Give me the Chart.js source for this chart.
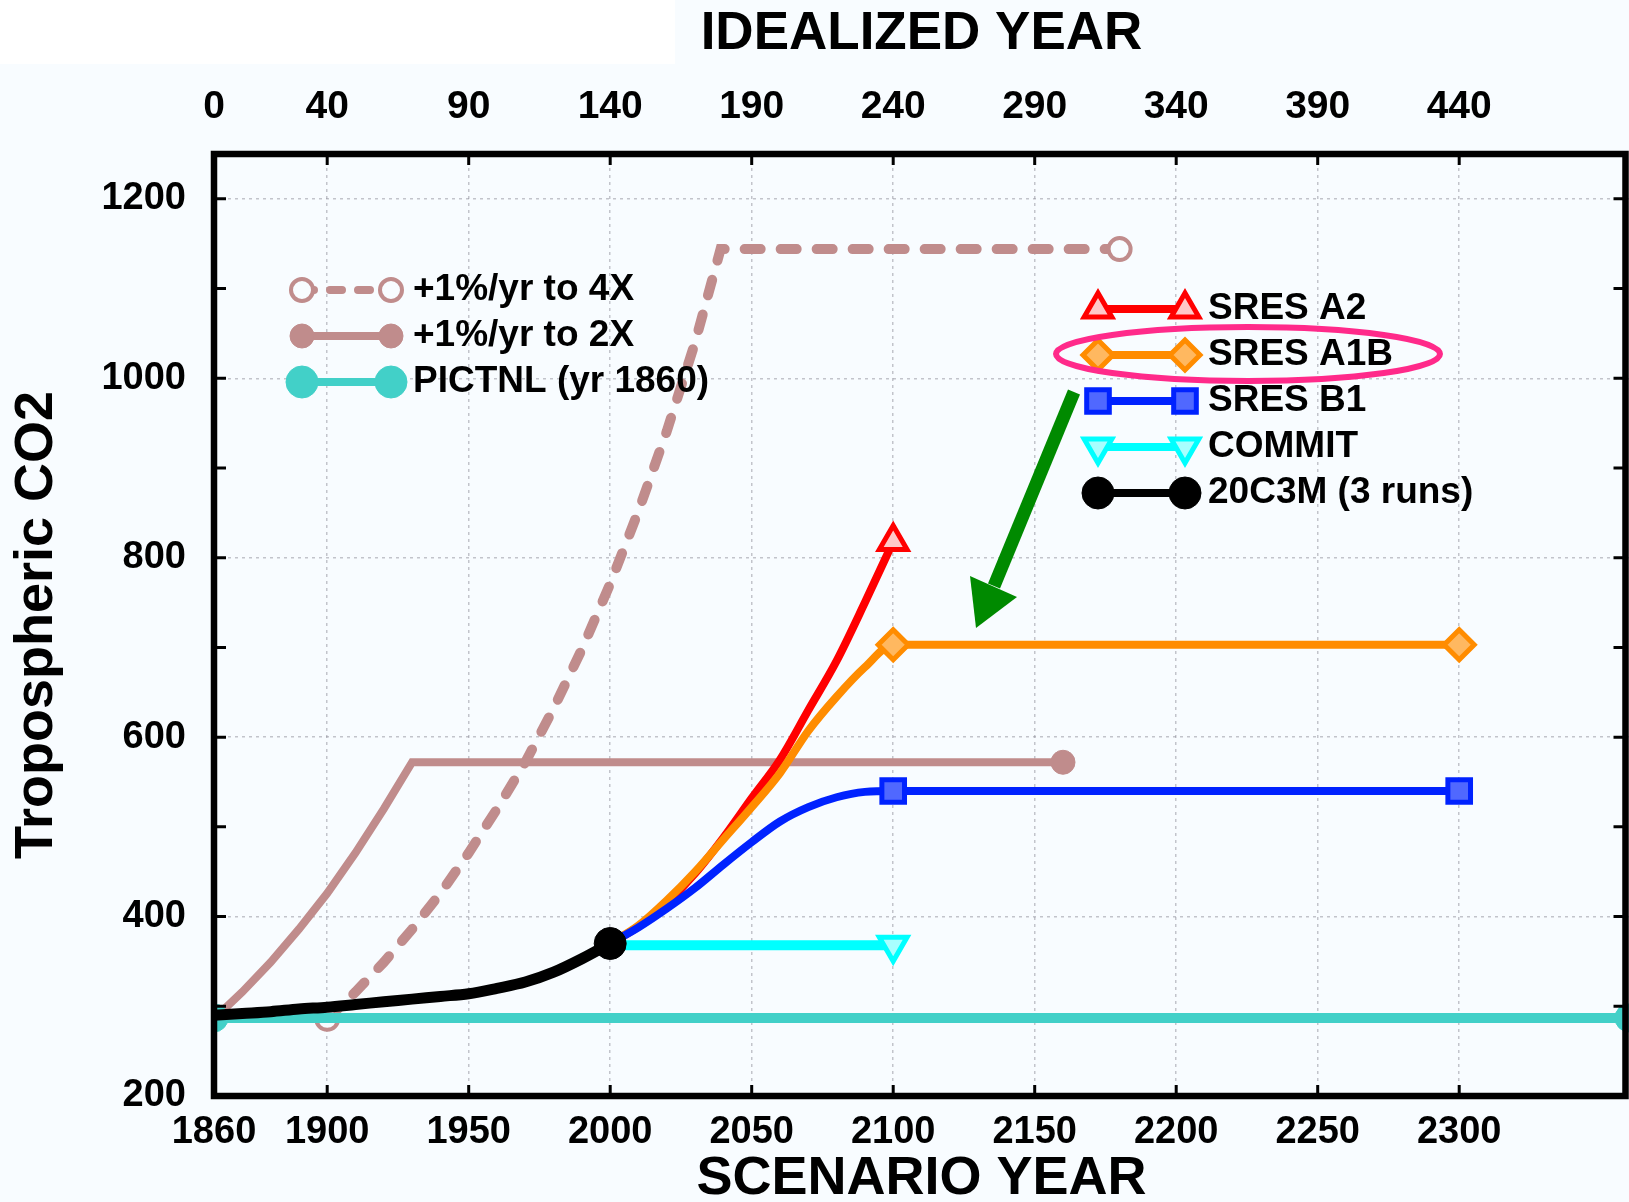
<!DOCTYPE html>
<html>
<head>
<meta charset="utf-8">
<title>Tropospheric CO2</title>
<script src="https://cdn.jsdelivr.net/npm/chart.js@4.4.0/dist/chart.umd.min.js"></script>
<style>
  html, body { margin: 0; padding: 0; background: #f8fcff; }
  #wrap { width: 1629px; height: 1202px; }
</style>
</head>
<body>
<div id="wrap"><canvas id="co2Chart" width="1629" height="1202"></canvas></div>
<script>
// tick positions (scenario years) and CO2 ticks
const scenarioTicks = [1860, 1900, 1950, 2000, 2050, 2100, 2150, 2200, 2250, 2300];
const idealizedStart = 1860; // idealized year 0
const co2Ticks = [200, 300, 400, 500, 600, 700, 800, 900, 1000, 1100, 1200];

// control runs
const pictnlYears = [1860, 2360];
const pictnlCO2 = [287, 287];

const twoXYears = [1860, 1870, 1880, 1890, 1900, 1910, 1920, 1930, 2160];
const twoXCO2 = [286, 316, 349, 386, 426, 471, 520, 572, 572];

const fourXYears = [1900, 1910, 1920, 1930, 1940, 1950, 1960, 1970, 1980, 1990, 2000, 2010, 2020, 2030, 2039, 2180];
const fourXCO2 = [286, 316, 349, 386, 426, 471, 520, 572, 632, 698, 771, 852, 941, 1040, 1144, 1144];

// 20th century
const histYears = [1860, 1870, 1880, 1890, 1900, 1910, 1920, 1930, 1940, 1950, 1960, 1970, 1980, 1990, 2000];
const histCO2 = [290, 292, 294, 297, 299, 302, 305, 308, 311, 314, 320, 327, 338, 353, 370];

// scenarios
const sresYears = [2000, 2010, 2020, 2030, 2040, 2050, 2060, 2070, 2080, 2090, 2100];
const stabYears = [2000, 2010, 2020, 2030, 2040, 2050, 2060, 2070, 2080, 2090, 2100, 2300];
const a2CO2 = [370, 389, 415, 448, 488, 532, 575, 630, 685, 750, 818];
const a1bCO2 = [370, 390, 418, 450, 486, 522, 560, 607, 645, 678, 703, 703];
const b1CO2 = [370, 388, 409, 432, 458, 483, 506, 522, 533, 539, 540, 540];
const commitYears = [2000, 2100];
const commitCO2 = [368, 368];

const FONT = "'Liberation Sans', Arial, sans-serif";
const toPts = (xs, ys) => xs.map((x, i) => ({ x: x, y: ys[i] }));
const endsOnly = (n, r) => Array.from({ length: n }, (_, i) => (i === 0 || i === n - 1) ? r : 0);
const lastOnly = (n, r) => Array.from({ length: n }, (_, i) => (i === n - 1) ? r : 0);

const rosy = '#c08c8c';
const turq = '#42d0c8';

const datasets = [
  {
    label: '+1%/yr to 4X', data: toPts(fourXYears, fourXCO2), order: 7,
    borderColor: rosy, borderWidth: 10, borderDash: [16, 20], borderCapStyle: 'round',
    pointStyle: 'circle', pointRadius: endsOnly(fourXYears.length, 11), pointBorderWidth: 4,
    pointBorderColor: rosy, pointBackgroundColor: '#f8fcff',
    legend: { group: 'left', slot: 0, radius: 11 }
  },
  {
    label: '+1%/yr to 2X', data: toPts(twoXYears, twoXCO2), order: 8,
    borderColor: rosy, borderWidth: 8,
    pointStyle: 'circle', pointRadius: endsOnly(twoXYears.length, 12), pointBorderWidth: 1,
    pointBorderColor: rosy, pointBackgroundColor: rosy,
    legend: { group: 'left', slot: 1, radius: 12 }
  },
  {
    label: 'PICTNL (yr 1860)', data: toPts(pictnlYears, pictnlCO2), order: 6,
    borderColor: turq, borderWidth: 10,
    pointStyle: 'circle', pointRadius: 14, pointBorderWidth: 1,
    pointBorderColor: turq, pointBackgroundColor: turq,
    legend: { group: 'left', slot: 2, radius: 16 }
  },
  {
    label: 'SRES A2', data: toPts(sresYears, a2CO2), order: 5,
    borderColor: '#ff0000', borderWidth: 8, cubicInterpolationMode: 'monotone',
    pointStyle: 'triangle', pointRadius: lastOnly(sresYears.length, 16), pointBorderWidth: 5,
    pointBorderColor: '#ff0000', pointBackgroundColor: '#ffc8c8',
    legend: { group: 'right', slot: 0, radius: 16 }
  },
  {
    label: 'SRES A1B', data: toPts(stabYears, a1bCO2), order: 4,
    borderColor: '#ff8c00', borderWidth: 8, cubicInterpolationMode: 'monotone',
    pointStyle: 'rectRot', pointRadius: stabYears.map(y => (y === 2100 || y === 2300) ? 15 : 0), pointBorderWidth: 5,
    pointBorderColor: '#ff8c00', pointBackgroundColor: '#ffb860',
    legend: { group: 'right', slot: 1, radius: 15 }
  },
  {
    label: 'SRES B1', data: toPts(stabYears, b1CO2), order: 3,
    borderColor: '#0022ff', borderWidth: 8, cubicInterpolationMode: 'monotone',
    pointStyle: 'rect', pointRadius: stabYears.map(y => (y === 2100 || y === 2300) ? 16 : 0), pointBorderWidth: 5,
    pointBorderColor: '#0022ff', pointBackgroundColor: '#5068ff',
    legend: { group: 'right', slot: 2, radius: 16 }
  },
  {
    label: 'COMMIT', data: toPts(commitYears, commitCO2), order: 2,
    borderColor: '#00ffff', borderWidth: 10,
    pointStyle: 'triangle', rotation: 180, pointRadius: [0, 16], pointBorderWidth: 5,
    pointBorderColor: '#00ffff', pointBackgroundColor: '#a8ffff',
    legend: { group: 'right', slot: 3, radius: 16 }
  },
  {
    label: '20C3M (3 runs)', data: toPts(histYears, histCO2), order: 1,
    borderColor: '#000000', borderWidth: 11, cubicInterpolationMode: 'monotone',
    pointStyle: 'circle', pointRadius: lastOnly(histYears.length, 16), pointBorderWidth: 1,
    pointBorderColor: '#000000', pointBackgroundColor: '#000000',
    legend: { group: 'right', slot: 4, radius: 16 }
  }
];

// legend placement (pixels)
const legendBoxes = {
  left: { x1: 302, x2: 391, textX: 413, ys: [290, 336, 382] },
  right: { x1: 1098, x2: 1185, textX: 1208, ys: [309, 355, 401, 447, 493] }
};

const backgroundPlugin = {
  id: 'background',
  beforeDraw(chart) {
    const ctx = chart.ctx;
    ctx.save();
    ctx.fillStyle = '#f8fcff';
    ctx.fillRect(0, 0, chart.width, chart.height);
    ctx.fillStyle = '#ffffff';
    ctx.fillRect(0, 0, 675, 64);
    ctx.restore();
  }
};

const framePlugin = {
  id: 'frame',
  afterDatasetsDraw(chart) {
    const ctx = chart.ctx;
    const a = chart.chartArea;
    const xs = chart.scales.x, ys = chart.scales.y;
    const right = a.right - 3.5;
    ctx.save();
    ctx.strokeStyle = '#000';
    ctx.lineWidth = 3;
    co2Ticks.forEach(v => {
      if (v === 200) return;
      const py = ys.getPixelForValue(v);
      ctx.beginPath();
      ctx.moveTo(a.left, py); ctx.lineTo(a.left + 12, py);
      ctx.moveTo(right, py); ctx.lineTo(right - 12, py);
      ctx.stroke();
    });
    scenarioTicks.forEach(v => {
      if (v === 1860) return;
      const px = xs.getPixelForValue(v);
      ctx.beginPath();
      ctx.moveTo(px, a.top); ctx.lineTo(px, a.top + 11);
      ctx.moveTo(px, a.bottom); ctx.lineTo(px, a.bottom - 11);
      ctx.stroke();
    });
    ctx.lineWidth = 6.5;
    ctx.beginPath();
    ctx.moveTo(a.left, a.top);
    ctx.lineTo(right, a.top);
    ctx.lineTo(right, a.bottom);
    ctx.lineTo(a.left, a.bottom);
    ctx.closePath();
    ctx.stroke();
    ctx.restore();
  }
};

const legendPlugin = {
  id: 'lineLegend',
  afterDraw(chart) {
    const ctx = chart.ctx;
    chart.data.datasets.forEach(ds => {
      const box = legendBoxes[ds.legend.group];
      const y = box.ys[ds.legend.slot];
      ctx.save();
      ctx.strokeStyle = ds.borderColor;
      ctx.lineWidth = Math.min(ds.borderWidth, 8);
      ctx.lineCap = ds.borderCapStyle || 'butt';
      ctx.setLineDash(ds.borderDash ? [12, 16] : []);
      ctx.beginPath();
      ctx.moveTo(box.x1, y);
      ctx.lineTo(box.x2, y);
      ctx.stroke();
      ctx.setLineDash([]);
      [box.x1, box.x2].forEach(px => {
        ctx.fillStyle = ds.pointBackgroundColor;
        ctx.strokeStyle = ds.pointBorderColor;
        ctx.lineWidth = ds.pointBorderWidth;
        Chart.helpers.drawPoint(ctx, {
          pointStyle: ds.pointStyle, radius: ds.legend.radius,
          rotation: ds.rotation || 0, borderWidth: ds.pointBorderWidth
        }, px, y);
      });
      ctx.fillStyle = '#000';
      ctx.font = 'bold 37px ' + FONT;
      ctx.textBaseline = 'middle';
      ctx.textAlign = 'left';
      ctx.fillText(ds.label, box.textX, y);
      ctx.restore();
    });

    // highlight ellipse round SRES A1B and the pointing arrow
    ctx.save();
    ctx.strokeStyle = '#ff2a8a';
    ctx.lineWidth = 6;
    ctx.beginPath();
    ctx.ellipse(1248, 354, 192, 27, 0, 0, Math.PI * 2);
    ctx.stroke();
    ctx.strokeStyle = '#008a00';
    ctx.fillStyle = '#008a00';
    ctx.lineWidth = 13;
    ctx.beginPath();
    ctx.moveTo(1074, 392);
    ctx.lineTo(994, 586);
    ctx.stroke();
    ctx.beginPath();
    ctx.moveTo(976, 628);
    ctx.lineTo(970, 576);
    ctx.lineTo(1017, 597);
    ctx.closePath();
    ctx.fill();
    ctx.restore();
  }
};

const gridGray = 'rgba(150,150,160,0.55)';
const clear = 'rgba(0,0,0,0)';
const noSidePadding = s => { s.paddingLeft = 0; s.paddingRight = 0; };

new Chart(document.getElementById('co2Chart').getContext('2d'), {
  type: 'line',
  data: { datasets: datasets },
  options: {
    responsive: false,
    animation: false,
    layout: { padding: 0, autoPadding: false },
    elements: { line: { tension: 0 } },
    scales: {
      x: {
        type: 'linear', position: 'bottom', min: 1860, max: 2360,
        afterBuildTicks: s => { s.ticks = scenarioTicks.map(v => ({ value: v })); },
        afterFit: s => { s.height = 1202 - 1096; noSidePadding(s); },
        ticks: {
          padding: 14, color: '#000', maxRotation: 0, autoSkip: false,
          font: { family: FONT, size: 38, weight: 'bold' },
          callback: v => String(v)
        },
        grid: {
          drawTicks: false, lineWidth: 1.5,
          color: c => (c.tick && c.tick.value !== 1860) ? gridGray : clear
        },
        border: { display: false, dash: [3, 4] },
        title: {
          display: true, text: 'SCENARIO YEAR', color: '#000',
          font: { family: FONT, size: 54, weight: 'bold', lineHeight: 0.8 },
          padding: { top: 0, bottom: 1 }
        }
      },
      xTop: {
        type: 'linear', position: 'top', min: 1860, max: 2360,
        afterBuildTicks: s => { s.ticks = scenarioTicks.map(v => ({ value: v })); },
        afterFit: s => { s.height = 154; noSidePadding(s); },
        ticks: {
          padding: 23, color: '#000', maxRotation: 0, autoSkip: false,
          font: { family: FONT, size: 39, weight: 'bold' },
          callback: v => String(v - idealizedStart)
        },
        grid: { display: false, drawTicks: false },
        border: { display: false },
        title: {
          display: true, text: 'IDEALIZED YEAR', color: '#000',
          font: { family: FONT, size: 53, weight: 'bold', lineHeight: 1 },
          padding: { top: 8, bottom: 0 }
        }
      },
      y: {
        type: 'linear', position: 'left', min: 200, max: 1250,
        afterBuildTicks: s => { s.ticks = co2Ticks.map(v => ({ value: v })); },
        afterFit: s => { s.width = 214; },
        ticks: {
          padding: 28, color: '#000',
          font: { family: FONT, size: 38, weight: 'bold' },
          callback: v => (v % 200 === 0) ? String(v) : ''
        },
        grid: {
          drawTicks: false, lineWidth: 1.5,
          color: c => (c.tick && c.tick.value % 200 === 0 && c.tick.value !== 200) ? gridGray : clear
        },
        border: { display: false, dash: [3, 4] },
        title: {
          display: true, text: 'Tropospheric CO2', color: '#000',
          font: { family: FONT, size: 54, weight: 'bold', lineHeight: 1 },
          padding: { top: 10, bottom: 0 }
        }
      }
    },
    plugins: {
      legend: { display: false },
      tooltip: { enabled: false }
    }
  },
  plugins: [backgroundPlugin, framePlugin, legendPlugin]
});
</script>
</body>
</html>
